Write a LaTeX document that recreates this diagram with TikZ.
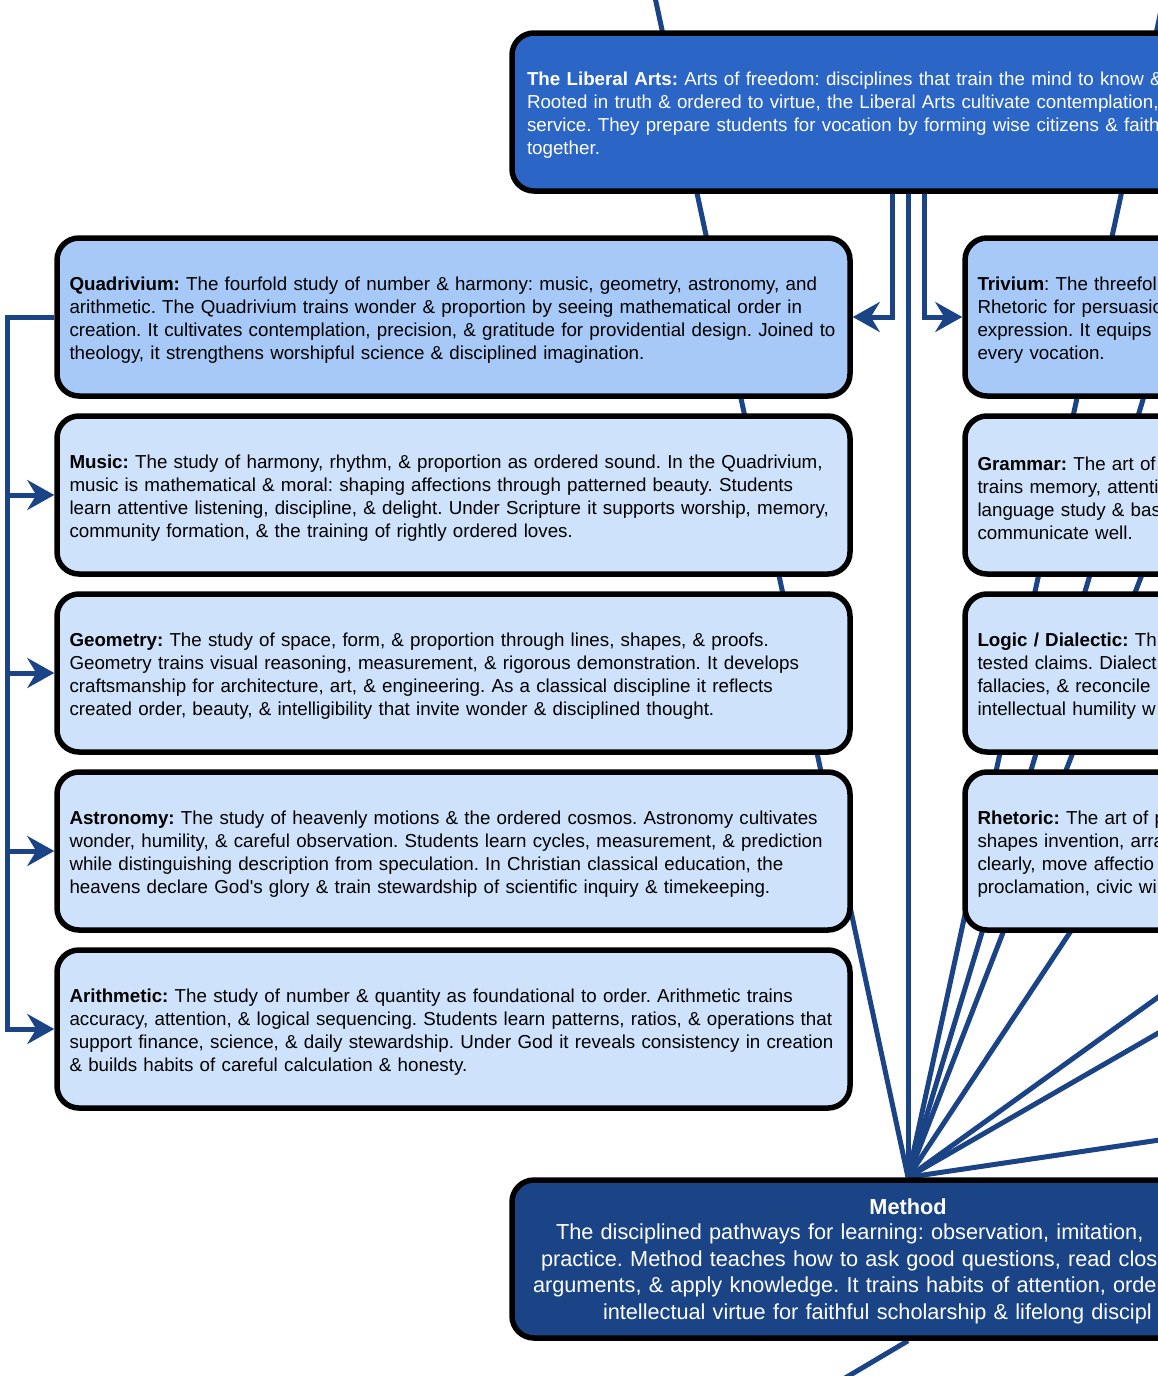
\documentclass[tikz,border=0pt]{standalone}
\usepackage{fontspec}
\setmainfont{Liberation Sans}
\usetikzlibrary{positioning,arrows.meta,backgrounds}
\frenchspacing

\definecolor{artsblue}{HTML}{2B65C6}
\definecolor{midblue}{HTML}{A6C9F7}
\definecolor{paleblue}{HTML}{CFE2FB}
\definecolor{navy}{HTML}{1B4487}

\tikzset{
  box/.style={draw=black, line width=5.5pt, rounded corners=22pt,
    minimum width=793pt, minimum height=158pt, text width=768pt,
    inner xsep=12.5pt, align=left, font=\fontsize{18.75}{23}\selectfont,
    execute at begin node={\hyphenpenalty=10000\rule{0pt}{19.5pt}}},
  topic/.style={box, fill=midblue},
  sub/.style={box, fill=paleblue},
  link/.style={draw=navy, line width=5pt},
  arr/.style={link, -{Stealth[length=27pt, width=30pt, inset=9pt]}}
}

\begin{document}
\begin{tikzpicture}[x=1pt,y=-1pt]
  \useasboundingbox (0,0) rectangle (1158,1376);
  \clip (0,0) rectangle (1158,1376);

  % top
  \node [box, fill=artsblue, text=white, minimum width=792pt, text width=762pt, inner xsep=15pt](arts) at (908,112){\textbf{The Liberal Arts:} Arts of freedom: disciplines that train the mind to know \&\\
    Rooted in truth \& ordered to virtue, the Liberal Arts cultivate contemplation,\\
    service. They prepare students for vocation by forming wise citizens \& faith\\
    together.};

  % quadrivium
  \node [topic](quad) at (453.5,317){\textbf{Quadrivium:} The fourfold study of number \& harmony: music, geometry, astronomy, and\\
    arithmetic. The Quadrivium trains wonder \& proportion by seeing mathematical order in\\
    creation. It cultivates contemplation, precision, \& gratitude for providential design. Joined to\\
    theology, it strengthens worshipful science \& disciplined imagination.};
  \node [sub, below=14.5pt of quad](music){\textbf{Music:} The study of harmony, rhythm, \& proportion as ordered sound. In the Quadrivium,\\
    music is mathematical \& moral: shaping affections through patterned beauty. Students\\
    learn attentive listening, discipline, \& delight. Under Scripture it supports worship, memory,\\
    community formation, \& the training of rightly ordered loves.};
  \node [sub, below=14.5pt of music](geom){\textbf{Geometry:} The study of space, form, \& proportion through lines, shapes, \& proofs.\\
    Geometry trains visual reasoning, measurement, \& rigorous demonstration. It develops\\
    craftsmanship for architecture, art, \& engineering. As a classical discipline it reflects\\
    created order, beauty, \& intelligibility that invite wonder \& disciplined thought.};
  \node [sub, below=14.5pt of geom](astro){\textbf{Astronomy:} The study of heavenly motions \& the ordered cosmos. Astronomy cultivates\\
    wonder, humility, \& careful observation. Students learn cycles, measurement, \& prediction\\
    while distinguishing description from speculation. In Christian classical education, the\\
    heavens declare God\textquotesingle s glory \& train stewardship of scientific inquiry \& timekeeping.};
  \node [sub, below=14.5pt of astro](arith){\textbf{Arithmetic:} The study of number \& quantity as foundational to order. Arithmetic trains\\
    accuracy, attention, \& logical sequencing. Students learn patterns, ratios, \& operations that\\
    support finance, science, \& daily stewardship. Under God it reveals consistency in creation\\
    \& builds habits of careful calculation \& honesty.};

  % trivium
  \node [topic](triv) at (1361.5,317){\textbf{Trivium}: The threefol\\
    Rhetoric for persuasio\\
    expression. It equips\\
    every vocation.};
  \node [sub, below=14.5pt of triv](gram){\textbf{Grammar:} The art of\\
    trains memory, attenti\\
    language study \& bas\\
    communicate well.};
  \node [sub, below=14.5pt of gram](logic){\textbf{Logic / Dialectic:} Th\\
    tested claims. Dialect\\
    fallacies, \& reconcile\\
    intellectual humility w};
  \node [sub, below=14.5pt of logic](rhet){\textbf{Rhetoric:} The art of p\\
    shapes invention, arra\\
    clearly, move affectio\\
    proclamation, civic wi};

  % method
  \node [box, fill=navy, text=white, minimum width=792pt, text width=752pt, inner xsep=20pt,
    font=\fontsize{21.7}{26.7}\selectfont,
    execute at begin node={\rule{0pt}{20.5pt}}](method) at (908,1259){\makebox[\hsize]{\bfseries Method}\\[-1.5pt]
    \hspace*{24pt}The disciplined pathways for learning: observation, imitation,\\
    \hspace*{9pt}practice. Method teaches how to ask good questions, read clos\\
    \hspace*{1pt}arguments, \& apply knowledge. It trains habits of attention, orde\\
    \hspace*{71pt}intellectual virtue for faithful scholarship \& lifelong discipl};

  % ends outside the view
  \coordinate (upL) at (647,-40);
  \coordinate (upR) at (1172,-40);
  \coordinate (trA) at (1190,244);
  \coordinate (trB) at (1190,451);
  \coordinate (trC) at (1190,751);
  \coordinate (rtA) at (1200,967);
  \coordinate (rtB) at (1200,1009);
  \coordinate (rtC) at (1200,1134);
  \coordinate (downL) at (808,1400);

  \begin{scope}[on background layer]
    \clip (0,0) rectangle (1158,1376);
    \foreach \src in {upL,upR,trA,trB,trC,rtA,rtB,rtC}
      \draw [link] (\src) -- (method.north);
    \draw [link] (arts.south) -- (method.north);
    \draw [link] (method.south) -- (downL);
    \draw [arr] ([xshift=-16pt]arts.south) |- (quad.east);
    \draw [arr] ([xshift=16pt]arts.south) |- (triv.west);
    \foreach \n in {music,geom,astro,arith}
      \draw [arr] (quad.west) -- ++(-47,0) |- (\n.west);
  \end{scope}
\end{tikzpicture}
\end{document}
